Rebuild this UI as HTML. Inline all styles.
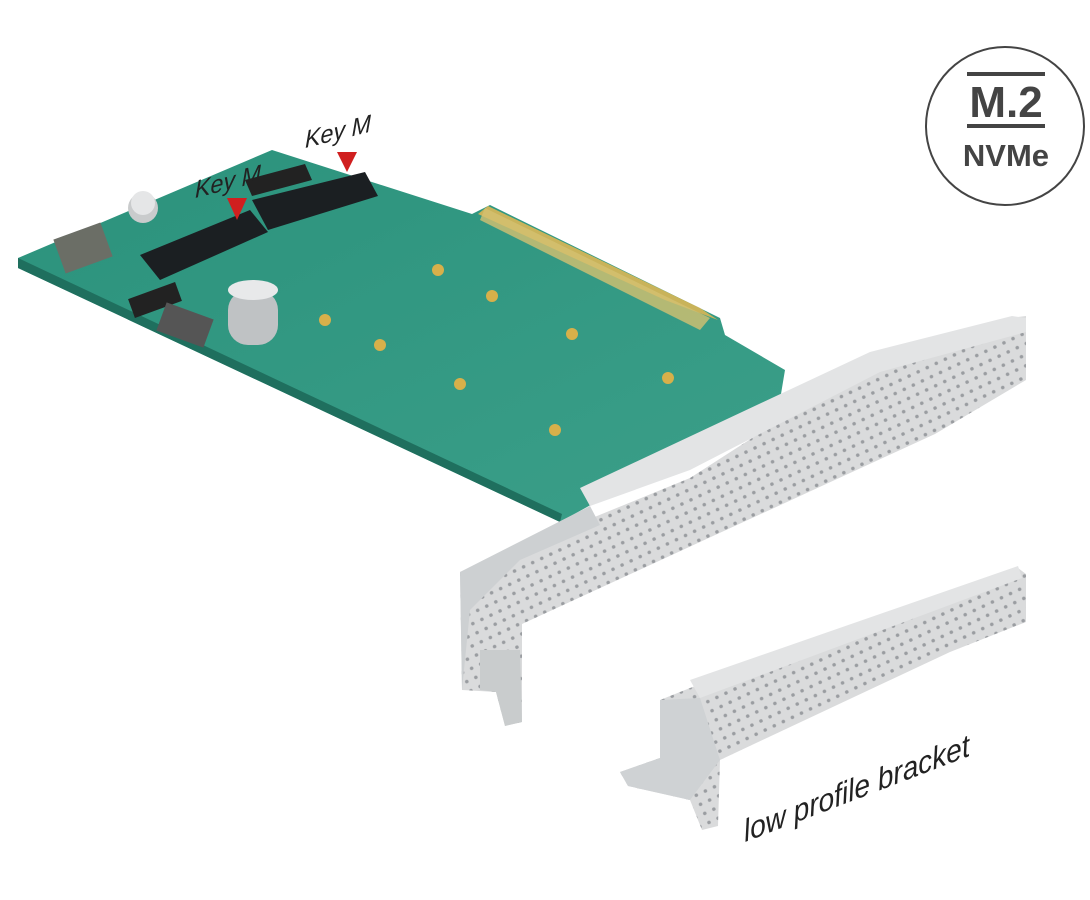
<!DOCTYPE html>
<html><head><meta charset="utf-8"><style>
html,body{margin:0;padding:0;background:#fff;}
svg{display:block;}
.lbl{font-family:"Liberation Sans",sans-serif;font-style:italic;fill:#222;}
</style></head><body>
<svg width="1090" height="900" viewBox="0 0 1090 900" xmlns="http://www.w3.org/2000/svg">
<defs>
<pattern id="holes" width="10" height="10" patternUnits="userSpaceOnUse" patternTransform="rotate(-25)">
<rect width="10" height="10" fill="#dadbdc"/>
<circle cx="5" cy="5" r="1.8" fill="#9a9da1"/>
</pattern>
<linearGradient id="pcb" x1="0" y1="0" x2="1" y2="1">
<stop offset="0" stop-color="#2b927c"/><stop offset="1" stop-color="#3b9f89"/>
</linearGradient>
</defs>
<polygon points="18,258 272,150 472,214 490,205 720,318 725,335 785,370 780,400 560,522 18,268" fill="url(#pcb)"/>
<polygon points="18,258 18,268 560,522 562,514" fill="#1f6f5e"/>
<polygon points="488,206 700,308 718,320 665,300 478,214" fill="#c9b35a"/>
<polygon points="485,208 710,318 700,330 480,220" fill="#d4c070" opacity="0.8"/>
<polygon points="140,255 250,210 268,232 160,280" fill="#1b1f22"/>
<polygon points="252,200 365,172 378,196 268,230" fill="#1b1f22"/>
<polygon points="245,180 305,164 312,180 252,196" fill="#222"/>
<rect x="58" y="230" width="50" height="36" fill="#6b6e66" transform="rotate(-20 83 248)"/>
<circle cx="143" cy="208" r="15" fill="#c9cbcc"/><circle cx="143" cy="203" r="12" fill="#e5e6e7"/>
<rect x="228" y="290" width="50" height="55" rx="20" fill="#bfc2c4"/>
<ellipse cx="253" cy="290" rx="25" ry="10" fill="#e8e9ea"/>
<rect x="130" y="290" width="50" height="20" fill="#222" transform="rotate(-20 155 300)"/>
<rect x="160" y="310" width="50" height="30" fill="#555" transform="rotate(20 185 325)"/>
<g fill="#d7b04a">
<circle cx="438" cy="270" r="6"/><circle cx="492" cy="296" r="6"/><circle cx="325" cy="320" r="6"/><circle cx="380" cy="345" r="6"/>
<circle cx="572" cy="334" r="6"/><circle cx="460" cy="384" r="6"/><circle cx="668" cy="378" r="6"/><circle cx="555" cy="430" r="6"/>
</g>
<polygon points="460,572 690,478 870,362 1010,318 1026,316 1026,380 935,434 700,542 522,624 522,722 505,726 496,692 462,690" fill="url(#holes)"/>
<polygon points="580,488 870,352 1012,316 1026,318 1026,332 880,372 690,470 590,506" fill="#e3e4e5"/>
<polygon points="460,572 590,506 600,525 520,560 470,610 462,690" fill="#cdd0d2"/>
<polygon points="480,650 520,650 522,722 505,726 496,692 480,690" fill="#c9cccd"/>
<polygon points="660,700 690,688 1018,568 1026,574 1026,622 950,652 720,760 718,826 702,830 690,800 628,786 620,772 660,758" fill="url(#holes)"/>
<polygon points="690,680 1018,566 1022,578 700,698" fill="#e3e4e5"/>
<polygon points="660,700 700,698 720,760 690,800 628,786 620,772 660,758" fill="#cfd2d4"/>
<polygon points="337,152 357,152 347,172" fill="#d01f1f"/>
<polygon points="227,198 247,198 237,220" fill="#d01f1f"/>
<g transform="translate(305 148) rotate(-14) skewX(-14)"><text class="lbl" x="0" y="0" font-size="24">Key M</text></g>
<g transform="translate(195 198) rotate(-14) skewX(-14)"><text class="lbl" x="0" y="0" font-size="24">Key M</text></g>
<g transform="translate(745 842) rotate(-21) skewX(-14)"><text class="lbl" x="0" y="0" font-size="30">low profile bracket</text></g>
<circle cx="1005" cy="126" r="79" fill="#fff" stroke="#444" stroke-width="2"/>
<rect x="967" y="72" width="78" height="4" fill="#444"/>
<rect x="967" y="124" width="78" height="4" fill="#444"/>
<text x="1006" y="117" style="font-family:'Liberation Sans',sans-serif;font-weight:bold" font-size="44" fill="#444" text-anchor="middle">M.2</text>
<text x="1006" y="166" style="font-family:'Liberation Sans',sans-serif;font-weight:bold" font-size="31" fill="#444" text-anchor="middle">NVMe</text>
</svg>
</body></html>
